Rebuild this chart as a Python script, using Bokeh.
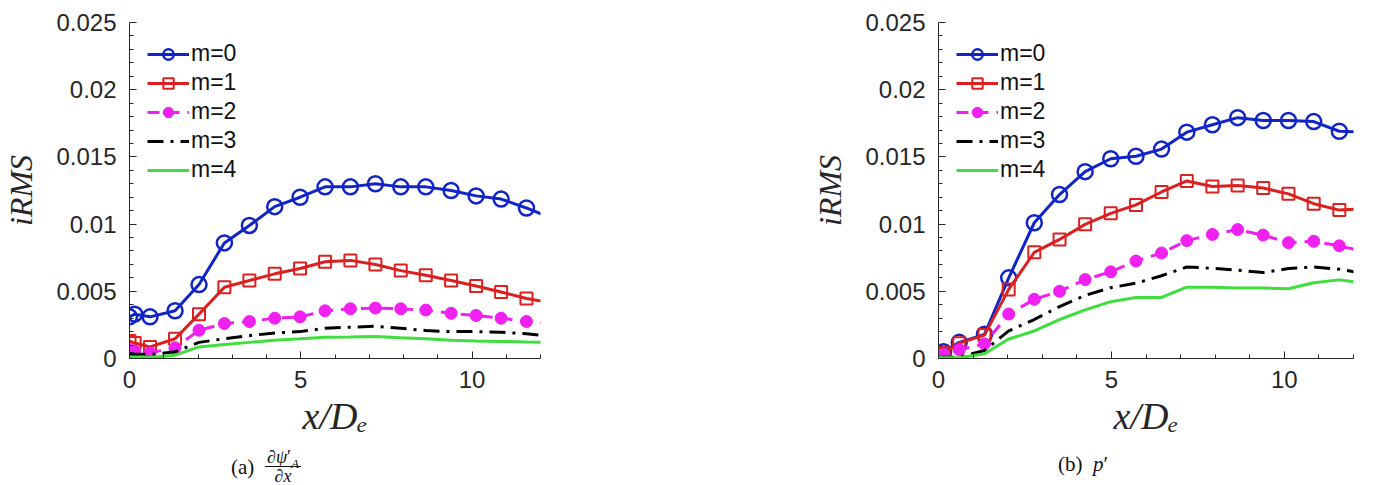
from bokeh.plotting import figure
from bokeh.layouts import row, column
from bokeh.models import (FixedTicker, CustomJSTickFormatter, Legend, LegendItem,
                          Div, Range1d)
from bokeh.embed import file_html
from bokeh.resources import INLINE

# ---------------- data ----------------
X = [0, 0.15, 0.6, 1.33, 2.03, 2.77, 3.5, 4.24, 4.98, 5.71, 6.45, 7.18,
     7.92, 8.65, 9.39, 10.12, 10.85, 11.59, 12.32]

# (a) dpsi'_A/dx
A_M0 = [0.0031, 0.0033, 0.0031, 0.00355, 0.0055, 0.0086, 0.0099, 0.0113, 0.0120,
        0.01277, 0.01277, 0.0130, 0.01277, 0.01277, 0.0125, 0.0121, 0.01186, 0.0112, 0.01045]
A_M1 = [0.0013, 0.00115, 0.00086, 0.00147, 0.0033, 0.0053, 0.0058, 0.0063, 0.0067,
        0.0072, 0.0073, 0.0070, 0.00654, 0.0062, 0.0058, 0.0054, 0.00495, 0.00446, 0.00416]
A_M2 = [0.00066, 0.00056, 0.00042, 0.0008, 0.0021, 0.0026, 0.00275, 0.0030, 0.0031,
        0.00355, 0.0037, 0.00375, 0.0037, 0.0036, 0.00336, 0.0032, 0.0030, 0.00275, 0.0026]
A_M3 = [0.00035, 0.00033, 0.0003, 0.0005, 0.0012, 0.00147, 0.0017, 0.0019, 0.0020,
        0.00225, 0.00233, 0.0024, 0.00225, 0.00208, 0.0020, 0.0020, 0.00196, 0.00184, 0.00165]
A_M4 = [0.0001, 0.0001, 0.00008, 0.00025, 0.00086, 0.00105, 0.0012, 0.00135, 0.00147,
        0.00159, 0.0016, 0.00164, 0.00155, 0.00147, 0.00135, 0.0013, 0.00127, 0.00123, 0.0012]

# (b) p'
B_M0 = [0.00036, 0.0005, 0.0012, 0.0018, 0.0060, 0.0101, 0.0122, 0.0139, 0.01486,
        0.01505, 0.01558, 0.01684, 0.01739, 0.01792, 0.01771, 0.01771, 0.01763, 0.01691, 0.01683]
B_M1 = [0.0003, 0.0004, 0.00114, 0.00174, 0.00514, 0.0079, 0.00886, 0.00998, 0.0108,
        0.01143, 0.01239, 0.01321, 0.0128, 0.01287, 0.01268, 0.01225, 0.01152, 0.01104, 0.01115]
B_M2 = [0.00017, 0.0003, 0.00065, 0.00109, 0.00331, 0.0044, 0.0050, 0.00587, 0.00645,
        0.00725, 0.00785, 0.00877, 0.00923, 0.00959, 0.00918, 0.00862, 0.00872, 0.00838, 0.00795]
B_M3 = [0.00007, 0.0001, 0.0001, 0.0006, 0.00205, 0.0029, 0.00386, 0.0047, 0.00527,
        0.0056, 0.00616, 0.00681, 0.00671, 0.00657, 0.0064, 0.00669, 0.00681, 0.00664, 0.00632]
B_M4 = [0.00007, 0.00006, 0.00005, 0.00036, 0.00145, 0.00205, 0.0029, 0.00362, 0.00423,
        0.00454, 0.00454, 0.00531, 0.00531, 0.00524, 0.00524, 0.00519, 0.00563, 0.00585, 0.00562]

LABELS = ["m=0", "m=1", "m=2", "m=3", "m=4"]
X_TICKS = [0, 5, 10]
X_MINOR = [1, 2, 3, 4, 6, 7, 8, 9, 11, 12]
Y_TICKS = [0, 0.005, 0.01, 0.015, 0.02, 0.025]
Y_MINOR = [0.001, 0.002, 0.003, 0.004, 0.006, 0.007, 0.008, 0.009, 0.011, 0.012,
           0.013, 0.014, 0.016, 0.017, 0.018, 0.019, 0.021, 0.022, 0.023, 0.024]

BLUE = "#1024c8"
RED = "#dc2020"
MAGENTA = "#f020f0"
BLACK = "#000000"
GREEN = "#3ede3e"
AXC = "#262626"


def make_fig(series, width, height, mbl, mbr, mbt, mbb):
    p = figure(width=width, height=height, x_range=Range1d(0, 12),
               y_range=Range1d(0, 0.025), output_backend="svg",
               toolbar_location=None, min_border_left=mbl, min_border_right=mbr,
               min_border_top=mbt, min_border_bottom=mbb)
    p.outline_line_color = None
    p.xgrid.visible = False
    p.ygrid.visible = False
    p.background_fill_color = "white"
    p.border_fill_color = "white"

    for ax in (p.xaxis[0], p.yaxis[0]):
        ax.axis_line_color = AXC
        ax.axis_line_width = 1
        ax.major_tick_line_color = AXC
        ax.minor_tick_line_color = AXC
        ax.major_tick_in = 7
        ax.major_tick_out = 0
        ax.minor_tick_in = 4
        ax.minor_tick_out = 0
        ax.major_label_text_font = "Liberation Sans"
        ax.major_label_text_font_size = "24px"
        ax.major_label_text_color = AXC
        ax.axis_label_text_font = "Liberation Serif"
        ax.axis_label_text_font_style = "italic"
        ax.axis_label_text_color = AXC

    p.xaxis.ticker = FixedTicker(ticks=X_TICKS, minor_ticks=X_MINOR)
    p.yaxis.ticker = FixedTicker(ticks=Y_TICKS, minor_ticks=Y_MINOR)
    p.yaxis.formatter = CustomJSTickFormatter(
        code="return parseFloat(tick.toFixed(4)).toString();")
    p.xaxis.major_label_standoff = 12
    p.yaxis.major_label_standoff = 13
    p.xaxis.axis_label = "x/Dₑ"
    p.xaxis.axis_label_text_font_size = "38px"
    p.xaxis.axis_label_standoff = 4
    p.yaxis.axis_label = "iRMS"
    p.yaxis.axis_label_text_font_size = "32px"
    p.yaxis.axis_label_standoff = 14

    s0, s1, s2, s3, s4 = series
    l0 = p.line(X, s0, line_color=BLUE, line_width=3)
    m0 = p.scatter(X, s0, marker="circle", size=15, line_color=BLUE,
                   line_width=2.5, fill_alpha=0)
    l1 = p.line(X, s1, line_color=RED, line_width=3)
    m1 = p.scatter(X, s1, marker="square", size=12, line_color=RED,
                   line_width=2, fill_alpha=0)
    l2 = p.line(X, s2, line_color=MAGENTA, line_width=3, line_dash="12 8")
    m2 = p.scatter(X, s2, marker="circle", size=12, line_color=MAGENTA,
                   fill_color=MAGENTA)
    l3 = p.line(X, s3, line_color=BLACK, line_width=3, line_dash="16 7 3 7")
    l4 = p.line(X, s4, line_color=GREEN, line_width=3)

    legend = Legend(items=[
        LegendItem(label=LABELS[0], renderers=[l0, m0]),
        LegendItem(label=LABELS[1], renderers=[l1, m1]),
        LegendItem(label=LABELS[2], renderers=[l2, m2]),
        LegendItem(label=LABELS[3], renderers=[l3]),
        LegendItem(label=LABELS[4], renderers=[l4]),
    ], location="top_left")
    legend.margin = 0
    legend.padding = 18
    legend.spacing = 2
    legend.glyph_width = 42
    legend.glyph_height = 26
    legend.label_height = 26
    legend.label_standoff = 2
    legend.label_text_font = "Liberation Sans"
    legend.label_text_font_size = "23px"
    legend.label_text_color = "#111111"
    legend.border_line_alpha = 0
    legend.background_fill_alpha = 0
    p.add_layout(legend)
    return p


pa = make_fig([A_M0, A_M1, A_M2, A_M3, A_M4], 809, 449, 127, 269, 22, 87)
pb = make_fig([B_M0, B_M1, B_M2, B_M3, B_M4], 564, 449, 127, 20, 13, 91)

SERIF = "font-family:'Liberation Serif',serif;color:#111;"
cap_a = Div(width=809, height=36, margin=0, text=(
    '<div style="position:relative;width:809px;height:36px;margin:0;' + SERIF + '">'
    '<span style="position:absolute;left:231px;top:7px;font-size:21px;line-height:22px;">(a)</span>'
    '<span style="position:absolute;left:265px;top:0px;display:inline-flex;'
    'flex-direction:column;align-items:center;font-size:18px;line-height:16px;">'
    '<span style="border-bottom:1px solid #111;padding:0 2px 1px 2px;">'
    '∂<i>ψ</i>′<sub style="font-size:13px;line-height:0;"><i>A</i></sub></span>'
    '<span style="padding-top:1px;">∂<i>x</i></span></span>'
    '</div>'))
cap_b = Div(width=564, height=36, margin=0, text=(
    '<div style="position:relative;width:564px;height:36px;margin:0;' + SERIF + '">'
    '<span style="position:absolute;left:249px;top:4px;font-size:21px;line-height:22px;">(b)&nbsp;&nbsp;<i>p</i>′</span>'
    '</div>'))

layout = column(row(pa, pb), row(cap_a, cap_b))

with open("out.html", "w") as f:
    f.write(file_html(layout, INLINE))
